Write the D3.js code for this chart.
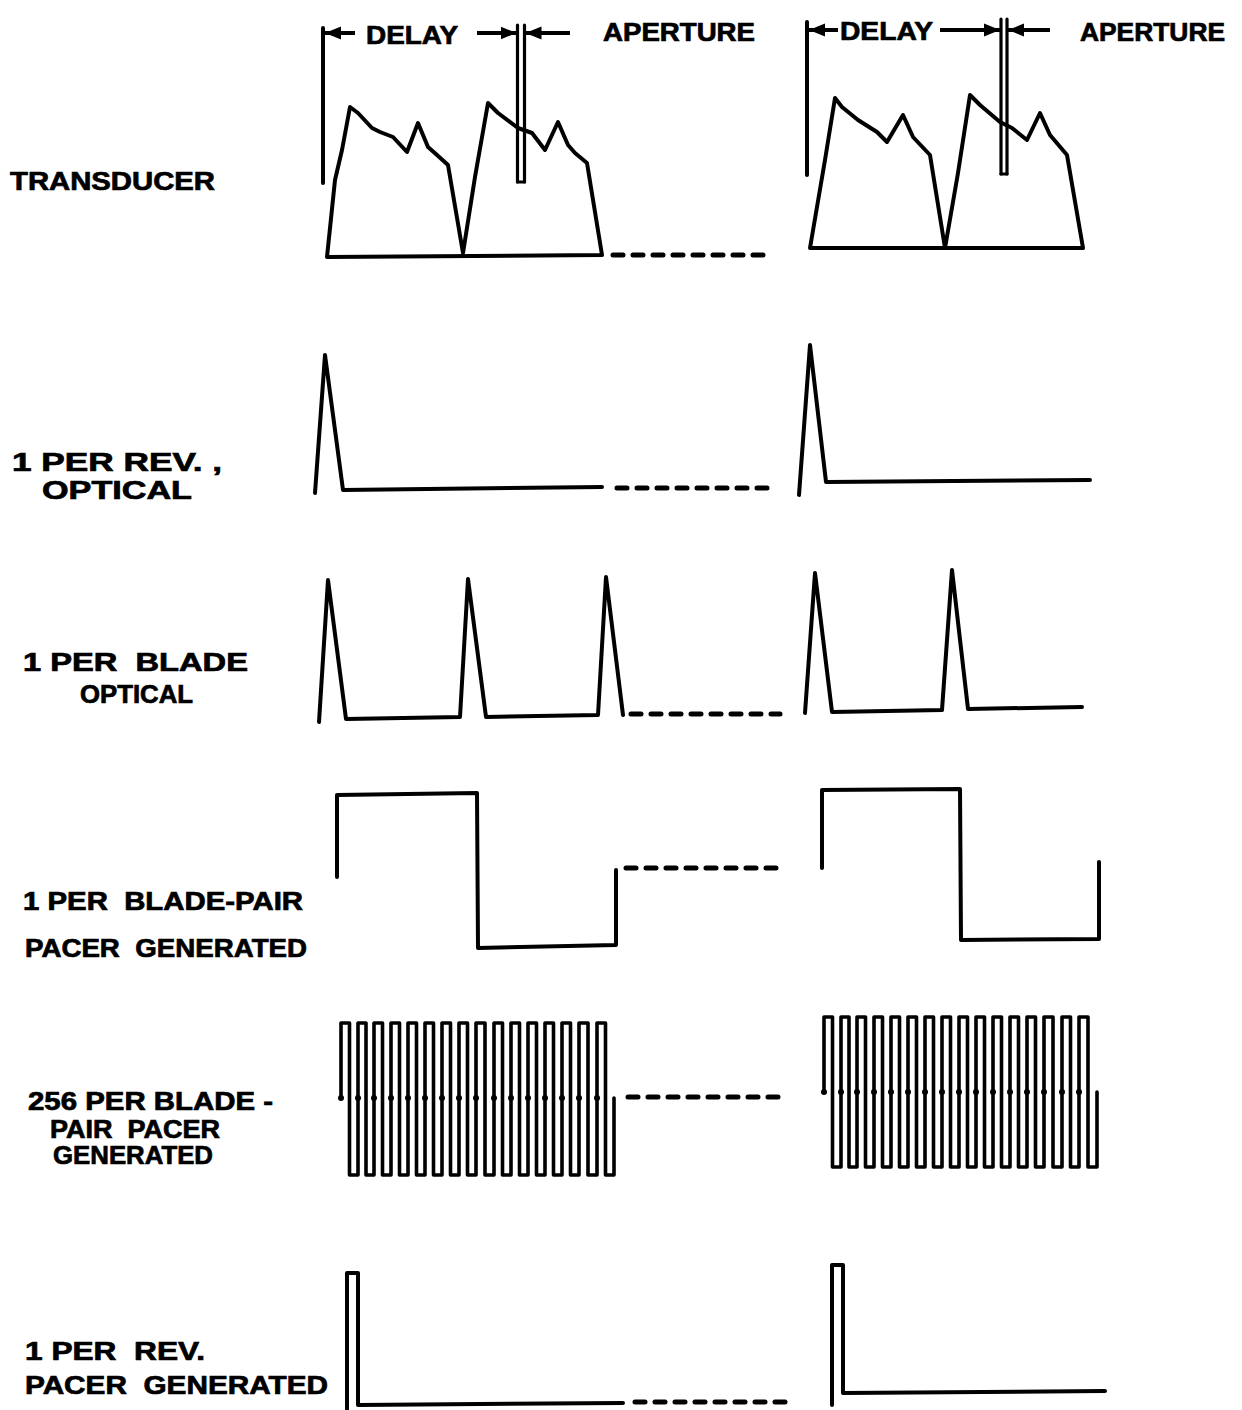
<!DOCTYPE html>
<html>
<head>
<meta charset="utf-8">
<script src="https://cdn.jsdelivr.net/npm/d3@7"></script>
<style>
  html, body { margin: 0; padding: 0; background: #fff; }
  svg text { font-family: "Liberation Sans", Arial, sans-serif; font-weight: bold; fill: #000;
             stroke: #000; stroke-width: 0.7; white-space: pre; }
</style>
</head>
<body>
<svg id="svg"></svg>
<script>
const width = 1242;
const height = 1410;

// ---- data: [time, level] pairs ----
// row label lines
const rowLabels = [
  ["TRANSDUCER"],
  ["1 PER REV. ,", "OPTICAL"],
  ["1 PER  BLADE", "OPTICAL"],
  ["1 PER  BLADE-PAIR", "PACER  GENERATED"],
  ["256 PER BLADE -", "PAIR  PACER", "GENERATED"],
  ["1 PER  REV.", "PACER  GENERATED"]
];
const headerLabels = ["DELAY", "APERTURE"];

// transducer pressure trace, first and second revolution
const transducerA = [[602, 2], [327, 0], [335, 77], [342, 107], [350, 150], [358, 144], [372, 129], [380, 125],
  [393, 120], [407, 105], [418, 134], [428, 110], [437, 102], [448, 92], [463, 4], [475, 80], [488, 154],
  [498, 144], [518, 129], [532, 124], [545, 107], [558, 135], [568, 112], [575, 104], [587, 94], [602, 2]];
const transducerB = [[1083, 9], [810, 9], [825, 97], [835, 159], [842, 150], [858, 137], [877, 125], [887, 115],
  [903, 142], [913, 120], [930, 102], [945, 9], [958, 84], [970, 162], [980, 152], [1000, 135], [1012, 129],
  [1027, 117], [1040, 144], [1050, 122], [1067, 102], [1083, 9]];

// delay / aperture markers: start of delay, aperture gate, for each revolution
const delayStart = [323, 807];
const apertureGate = [521, 1004];

// 1 per rev optical pulse
const revOpticalA = [[315, -3], [325, 135], [343, 0], [602, 3]];
const revOpticalB = [[799, -5], [810, 145], [826, 8], [1090, 10]];

// 1 per blade optical pulses
const bladeOpticalA = [[319, -4], [328, 138], [346, -1], [460, 1], [468, 139], [486, 1], [598, 3], [606, 141], [623, 3]];
const bladeOpticalB = [[805, 5], [815, 145], [832, 6], [942, 8], [952, 148], [968, 9], [1082, 11]];

// 1 per blade-pair square wave
const bladePairA = [[337, 70], [337, 152], [477, 154], [478, -1], [616, 2], [616, 77]];
const bladePairB = [[822, 79], [822, 157], [960, 158], [961, 7], [1099, 8], [1099, 85]];

// 256 per blade-pair pacer: rising edge times of each visible cycle
const pacerUpsA = [341, 358, 374, 391, 408, 425, 442, 459, 476, 494, 511, 528, 545, 562, 579, 597];
const pacerUpsB = [824, 841, 857, 874, 891, 908, 925, 942, 959, 976, 993, 1010, 1027, 1044, 1062, 1079];
const pacerEndA = 614;
const pacerEndB = 1097;
const pacerLevelsA = { lo: 0, mid: 77, hi: 152 };
const pacerLevelsB = { lo: 8, mid: 83, hi: 158 };

// 1 per rev pacer pulse
const revPacerA = [[347, -6], [347, 132], [358, 132], [358, 0], [623, 2]];
const revPacerB = [[832, 0], [832, 140], [843, 140], [843, 12], [1105, 14]];

// dashed "continues" segments, [start, end, level] per row
const gaps = [[613, 772, 2], [617, 772, 2], [631, 780, 4], [626, 782, 79], [628, 780, 78], [635, 795, 3]];

// ---- layout ----
const rowBase = [257, 490, 718, 947, 1175, 1405];
const labelLayout = [
  [[10, 190, 205]],
  [[12, 471, 210], [42, 499, 150]],
  [[23, 671, 225], [80, 703, 113]],
  [[23, 910, 280], [25, 957, 282]],
  [[28, 1110, 245], [50, 1138, 170], [53, 1164, 160]],
  [[25, 1360, 180], [25, 1394, 303]]
];

const svg = d3.select("#svg").attr("width", width).attr("height", height);
svg.append("rect").attr("width", width).attr("height", height).attr("fill", "#fff");

const defs = svg.append("defs");
defs.append("marker")
  .attr("id", "head")
  .attr("viewBox", "0 0 10 10")
  .attr("refX", 10).attr("refY", 5)
  .attr("markerWidth", 4).attr("markerHeight", 4)
  .attr("markerUnits", "strokeWidth")
  .attr("orient", "auto")
  .append("path").attr("d", "M0,1 L10,5 L0,9 Z").attr("fill", "#000");

const xScale = d3.scaleLinear().domain([0, width]).range([0, width]);
const yScales = rowBase.map(b => d3.scaleLinear().domain([0, 100]).range([b, b - 100]));

function trace(row, pts, sw) {
  const y = yScales[row];
  const line = d3.line().x(d => xScale(d[0])).y(d => y(d[1]));
  svg.append("path")
    .attr("d", line(pts))
    .attr("fill", "none")
    .attr("stroke", "#000")
    .attr("stroke-width", sw || 4)
    .attr("stroke-linejoin", "round")
    .attr("stroke-linecap", "round");
}

function squareWave(ups, endUp, lv) {
  const pts = [[ups[0], lv.mid]];
  ups.forEach((u, i) => {
    const next = i < ups.length - 1 ? ups[i + 1] : endUp;
    const down = (u + next) / 2;
    pts.push([u, lv.hi], [down, lv.hi], [down, lv.lo], [next, lv.lo]);
  });
  pts.push([endUp, lv.mid]);
  return pts;
}

trace(0, transducerA);
trace(0, transducerB);
trace(1, revOpticalA);
trace(1, revOpticalB);
trace(2, bladeOpticalA);
trace(2, bladeOpticalB);
trace(3, bladePairA);
trace(3, bladePairB);
trace(4, squareWave(pacerUpsA, pacerEndA, pacerLevelsA), 3.6);
trace(4, squareWave(pacerUpsB, pacerEndB, pacerLevelsB), 3.6);
trace(5, revPacerA);
trace(5, revPacerB);

// mid-level dots on the pacer rising edges
[[pacerUpsA, pacerLevelsA], [pacerUpsB, pacerLevelsB]].forEach(([ups, lv]) => {
  svg.selectAll(null).data(ups).enter().append("circle")
    .attr("cx", d => xScale(d))
    .attr("cy", yScales[4](lv.mid))
    .attr("r", 3)
    .attr("fill", "#000");
});

// dashed continuation lines
gaps.forEach((g, row) => {
  svg.append("line")
    .attr("x1", xScale(g[0])).attr("x2", xScale(g[1]))
    .attr("y1", yScales[row](g[2])).attr("y2", yScales[row](g[2]))
    .attr("stroke", "#000")
    .attr("stroke-width", 5)
    .attr("stroke-dasharray", "10 10")
    .attr("stroke-linecap", "round");
});

// delay / aperture markers
const yT = yScales[0];
delayStart.forEach((t, i) => {
  const top = i === 0 ? 229 : 235;
  const bottom = i === 0 ? 74 : 82;
  const arrowLevel = i === 0 ? 224 : 227;
  svg.append("line")
    .attr("x1", xScale(t)).attr("x2", xScale(t))
    .attr("y1", yT(top)).attr("y2", yT(bottom))
    .attr("stroke", "#000").attr("stroke-width", 4).attr("stroke-linecap", "round");

  const g = apertureGate[i];
  const half = i === 0 ? 3.5 : 3;
  [g - half, g + half].forEach(gx => {
    svg.append("line")
      .attr("x1", xScale(gx)).attr("x2", xScale(gx))
      .attr("y1", yT(top + 3)).attr("y2", yT(bottom + 1))
      .attr("stroke", "#000").attr("stroke-width", 3.2).attr("stroke-linecap", "round");
  });
  svg.append("line")
    .attr("x1", xScale(g - half)).attr("x2", xScale(g + half))
    .attr("y1", yT(bottom + 1)).attr("y2", yT(bottom + 1))
    .attr("stroke", "#000").attr("stroke-width", 3.2).attr("stroke-linecap", "round");

  // arrows: into the delay start, into the gate from the delay side, into the gate from the aperture side
  const ay = yT(arrowLevel);
  const arrows = i === 0
    ? [[355, t + 2], [477, g - half - 1], [570, g + half + 1]]
    : [[838, t + 2], [940, g - half - 1], [1050, g + half + 1]];
  arrows.forEach(a => {
    svg.append("line")
      .attr("x1", xScale(a[0])).attr("x2", xScale(a[1]))
      .attr("y1", ay).attr("y2", ay)
      .attr("stroke", "#000").attr("stroke-width", 4)
      .attr("marker-end", "url(#head)");
  });

  const delayX = i === 0 ? [366, 92] : [840, 93];
  const apX = i === 0 ? [603, 152] : [1080, 145];
  svg.append("text").attr("x", delayX[0]).attr("y", i === 0 ? 44 : 40)
    .attr("font-size", 25).attr("textLength", delayX[1]).attr("lengthAdjust", "spacingAndGlyphs")
    .text(headerLabels[0]);
  svg.append("text").attr("x", apX[0]).attr("y", 41)
    .attr("font-size", 25).attr("textLength", apX[1]).attr("lengthAdjust", "spacingAndGlyphs")
    .text(headerLabels[1]);
});

// row labels
rowLabels.forEach((lines, r) => {
  lines.forEach((txt, k) => {
    const l = labelLayout[r][k];
    svg.append("text")
      .attr("x", l[0]).attr("y", l[1])
      .attr("font-size", 25)
      .attr("textLength", l[2])
      .attr("lengthAdjust", "spacingAndGlyphs")
      .text(txt);
  });
});
</script>
</body>
</html>
